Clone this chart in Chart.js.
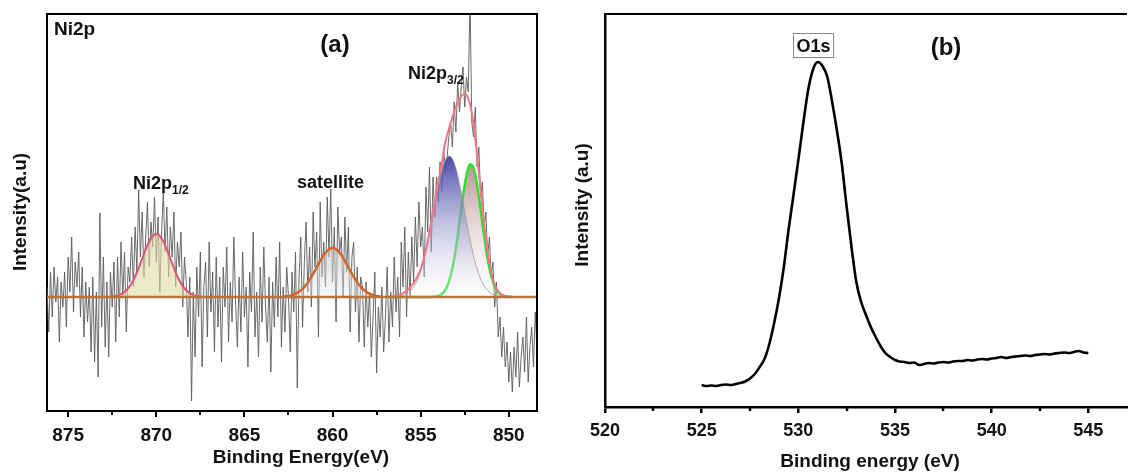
<!DOCTYPE html>
<html>
<head>
<meta charset="utf-8">
<script src="https://cdn.jsdelivr.net/npm/chart.js@4.4.1/dist/chart.umd.min.js"></script>
<style>
  html, body { margin: 0; padding: 0; background: #fff; }
  #wrap { position: relative; width: 1128px; height: 473px; overflow: hidden; background: #fff; }
  #ni { position: absolute; left: 0; top: 0; }
  #o1s { position: absolute; left: 560px; top: 0; }
</style>
</head>
<body>
<div id="wrap">
  <canvas id="ni" width="560" height="473"></canvas>
  <canvas id="o1s" width="568" height="473"></canvas>
</div>
<script>
// ---- (a) Ni2p spectrum, intensity relative to background (a.u.) ----
// raw counts, 876.2 eV down to 848.4 eV in 0.1 eV steps
const niStart = 876.2;
const niStep = 0.1;
const niCounts = [
  10, -35, 25, -20, 30, -5, 20, -45, 15, -10,
  25, -30, 40, 5, 60, -15, 35, 10, 45, -20,
  30, -40, 15, -25, 10, -55, 20, -65, 5, -80,
  84, -30, 40, -50, 15, -60, 25, -10, 35, -45,
  40, -20, 55, 0, 45, -35, 30, 15, 60, 10,
  70, 25, 107, 40, 85, 20, 60, 95, 30, 75,
  50, 100, 35, 80, 5, 65, 105, 45, 90, 20,
  70, 40, 85, 10, 55, 30, 65, -10, 40, 15,
  -40, 20, -104, 5, -60, 30, -20, 45, -70, 10,
  35, -40, 55, -15, 25, -55, 40, -30, 20, -65,
  30, -10, 50, -45, 15, -25, 60, -5, -50, 20,
  -35, 45, -20, 10, -70, 25, -15, 65, -40, 5,
  -60, 30, -25, 50, -10, -45, 20, -75, 15, -30,
  40, -20, 55, -50, 10, -35, 30, 0, -55, 25,
  -15, 45, -91, 20, 60, -30, 35, 75, 5, 50,
  -10, 85, 30, 65, -40, 95, 20, 55, 10, 100,
  40, 108, 15, 70, -25, 90, 45, 60, 0, 80,
  25, 70, -35, 40, 55, -15, 30, -45, 20, 10,
  -50, 15, -30, 5, -60, -20, 25, -76, -10, -40,
  10, -55, -20, 30, -45, 5, -30, 40, -15, 20,
  -40, 55, 10, 70, -20, 45, 0, 60, 15, 80,
  30, 95, 50, 70, 20, 110, 65, 130, 45, 120,
  80, 120, 95, 135, 105, 150, 125, 140, 160, 175,
  150, 195, 165, 215, 185, 210, 230, 190, 220, 205,
  300, 175, 160, 190, 130, 150, 100, 115, 70, 85,
  40, 60, 20, 35, -10, 15, -40, -20, -60, -30,
  -70, -45, -85, -55, -95, -50, -80, -35, -90, -60,
  -40, -75, -20, -85, -50, -30, -70, -15, -55
];

// Ni2p1/2 fit, 872.6 -> 867.4 eV, 0.2 eV steps
const ni12Start = 872.6;
const ni12Fit = [0.3, 0.7, 1.4, 2.8, 5.0, 8.6, 13.7, 20.5, 28.9, 38.2, 47.6, 55.6, 61.0, 63.0,
  61.0, 55.6, 47.6, 38.2, 28.9, 20.5, 13.7, 8.6, 5.0, 2.8, 1.4, 0.7, 0.3];

// satellite fit, 862.8 -> 857.2 eV, 0.2 eV steps
const satStart = 862.8;
const satFit = [0.4, 0.8, 1.4, 2.5, 4.2, 6.6, 10.1, 14.6, 20.2, 26.4, 33.0, 39.2, 44.4, 47.8, 49.0,
  47.8, 44.4, 39.2, 33.0, 26.4, 20.2, 14.6, 10.1, 6.6, 4.2, 2.5, 1.4, 0.8, 0.4];

// Ni2p3/2 components and envelope, 856.8 -> 849.8 eV, 0.2 eV steps
const mainStart = 856.8;
const blueFit = [0.1, 0.2, 0.4, 0.8, 1.7, 3.2, 5.9, 10.1, 16.6, 26.0, 38.4, 53.9, 72.0, 91.4, 110.0, 125.8,
  136.7, 141.0, 138.1, 128.5, 113.5, 95.2, 75.9, 57.4, 41.3, 28.2, 18.2, 11.2, 6.6, 3.6, 1.9, 1.0, 0.5, 0.2, 0.1, 0];
const greenFit = [0, 0, 0, 0, 0, 0, 0, 0, 0, 0, 0, 0, 0.1, 0.4, 1.2, 3.0,
  7.2, 15.2, 28.8, 48.8, 74.0, 100.4, 121.9, 132.5, 128.9, 112.2, 87.4, 60.9, 37.9, 21.2, 10.6, 4.7, 1.9, 0.7, 0.2, 0.1];
const envelopeFit = [0.3, 0.6, 1.2, 2.2, 3.8, 6.2, 9.5, 14, 20, 28, 40, 56, 75, 95, 115, 133,
  155, 168, 180, 190, 198, 202.5, 202, 193, 172, 142, 107, 73, 45, 25, 12.5, 5.7, 2.4, 0.9, 0.3, 0.1];

const niBackground = [0, 0];
const niBackgroundEnergy = [876.2, 848.4];
const niTicks = [875, 870, 865, 860, 855, 850];
const niMinorTicks = [872.5, 867.5, 862.5, 857.5, 852.5];

// ---- (b) O1s spectrum, 525 -> 545 eV, 0.25 eV steps ----
const oStart = 525;
const oStep = 0.25;
const oCounts = [
  22, 21, 21.5, 21, 22, 22.5, 22, 23, 24, 25.5, 28.5, 33,
  40, 48, 63, 84, 109, 140, 178, 212, 247, 283, 316, 337,
  345, 341, 330, 305, 276, 243, 200, 160, 125, 105, 92, 80,
  70, 61, 54, 50, 47, 45.5, 45, 44, 44.5, 42, 43, 44,
  43.5, 44.5, 45, 44.5, 45.5, 46, 46, 47, 46.5, 47.5, 48, 47.5,
  48.5, 49, 50, 49, 50, 50.5, 51, 51.5, 51, 52, 52.5, 53,
  52.5, 53.5, 54, 54.5, 54, 55, 56, 54.5, 54
];
const oTicks = [520, 525, 530, 535, 540, 545];
const oMinorTicks = [522.5, 527.5, 532.5, 537.5, 542.5];

const FONT = "'Liberation Sans', Arial, Helvetica, sans-serif";

function toPoints(values, start, step) {
  return values.map((v, i) => ({ x: +(start + i * step).toFixed(3), y: v }));
}

// vertical gradient from the peak of a curve down to the background line
function peakGradient(peak, top, bottom) {
  return (c) => {
    const chart = c.chart;
    if (!chart.chartArea) return bottom;
    const y = chart.scales.y;
    const g = chart.ctx.createLinearGradient(0, y.getPixelForValue(peak), 0, y.getPixelForValue(0));
    g.addColorStop(0, top);
    g.addColorStop(1, bottom);
    return g;
  };
}

function subLabel(ctx, main, sub, x, y, size) {
  ctx.textAlign = 'left';
  ctx.textBaseline = 'alphabetic';
  ctx.font = `bold ${size}px ${FONT}`;
  ctx.fillText(main, x, y);
  const w = ctx.measureText(main).width;
  ctx.font = `bold ${Math.round(size * 0.68)}px ${FONT}`;
  ctx.fillText(sub, x + w, y + 5);
}

function vTitle(ctx, text, x, y, size) {
  ctx.save();
  ctx.translate(x, y);
  ctx.rotate(-Math.PI / 2);
  ctx.font = `bold ${size}px ${FONT}`;
  ctx.textAlign = 'center';
  ctx.textBaseline = 'alphabetic';
  ctx.fillText(text, 0, 0);
  ctx.restore();
}

function decor(id, opts) {
  return {
    id,
    afterDraw(chart) {
      const { ctx, chartArea: a, scales: { x } } = chart;
      ctx.save();
      ctx.strokeStyle = '#000';
      ctx.lineWidth = opts.frameWidth;
      ctx.beginPath();
      ctx.moveTo(a.left, a.top);
      ctx.lineTo(a.right, a.top);
      if (opts.rightBorder) ctx.lineTo(a.right, a.bottom);
      ctx.stroke();
      ctx.lineWidth = opts.tickWidth;
      opts.minor.forEach(v => {
        const px = Math.round(x.getPixelForValue(v));
        ctx.beginPath();
        ctx.moveTo(px, a.bottom);
        ctx.lineTo(px, a.bottom + 4);
        ctx.stroke();
      });
      ctx.fillStyle = '#111';
      opts.texts(ctx);
      ctx.restore();
    }
  };
}

function line(data, color, width, order, extra) {
  return Object.assign({
    data, borderColor: color, borderWidth: width, order,
    pointRadius: 0, fill: false, tension: 0.4, borderJoinStyle: 'round'
  }, extra || {});
}

function axes(xMin, xMax, reverse, ticks, yMin, yMax, yWidth, xHeight, tickSize, axisWidth) {
  return {
    x: {
      type: 'linear', min: xMin, max: xMax, reverse,
      afterBuildTicks: s => { s.ticks = ticks.map(v => ({ value: v })); },
      afterFit: s => { s.height = xHeight; },
      ticks: { font: { family: FONT, size: tickSize, weight: 'bold' }, color: '#111', padding: 7,
        maxRotation: 0, autoSkip: false, callback: v => String(v) },
      grid: { display: true, drawOnChartArea: false, drawTicks: true, tickLength: 6, color: '#000', lineWidth: axisWidth },
      border: { display: true, color: '#000', width: axisWidth }
    },
    y: {
      type: 'linear', min: yMin, max: yMax,
      afterFit: s => { s.width = yWidth; },
      ticks: { display: false },
      grid: { display: false, drawTicks: false },
      border: { display: true, color: '#000', width: axisWidth }
    }
  };
}

const common = {
  responsive: false, animation: false, devicePixelRatio: 1, events: [],
  plugins: { legend: { display: false }, tooltip: { enabled: false } }
};

// ---- chart (a) ----
new Chart(document.getElementById('ni'), {
  type: 'line',
  data: {
    datasets: [
      line(niBackgroundEnergy.map((e, i) => ({ x: e, y: niBackground[i] })), '#b6733d', 2.5, 0, { tension: 0 }),
      line(toPoints(envelopeFit, mainStart, -0.2), '#f27684', 2, 1),
      line(toPoints(blueFit, mainStart, -0.2), '#9a9a9a', 0.8, 2, {
        fill: { value: 0 }, backgroundColor: peakGradient(141, 'rgba(66,66,165,0.97)', 'rgba(255,255,255,0.25)') }),
      line(toPoints(greenFit, mainStart, -0.2), '#2fe02f', 2.5, 3, {
        fill: { value: 0 }, backgroundColor: peakGradient(133, 'rgba(172,125,125,0.85)', 'rgba(255,255,255,0.2)') }),
      line(toPoints(ni12Fit, ni12Start, -0.2), '#e2507c', 2, 2, {
        fill: { value: 0 }, backgroundColor: 'rgba(224,218,165,0.6)' }),
      line(toPoints(satFit, satStart, -0.2), '#d4622a', 2.5, 2, {
        fill: { value: 0 }, backgroundColor: peakGradient(49, 'rgba(195,195,195,0.6)', 'rgba(235,235,235,0.4)') }),
      line(toPoints(niCounts, niStart, -niStep), '#5a5a5a', 0.9, 10, { tension: 0 })
    ]
  },
  options: Object.assign({}, common, {
    layout: { padding: { top: 14, right: 23, left: 0, bottom: 0 } },
    scales: axes(848.4, 876.2, true, niTicks, -114, 283, 47, 62, 19, 2)
  }),
  plugins: [decor('niDecor', {
    frameWidth: 2, rightBorder: true, tickWidth: 2, minor: niMinorTicks,
    texts(ctx) {
      ctx.textAlign = 'left';
      ctx.textBaseline = 'alphabetic';
      ctx.font = `bold 19px ${FONT}`;
      ctx.fillText('Ni2p', 54, 35);
      ctx.font = `bold 24px ${FONT}`;
      ctx.textAlign = 'center';
      ctx.fillText('(a)', 335, 52);
      subLabel(ctx, 'Ni2p', '3/2', 408, 79, 18);
      subLabel(ctx, 'Ni2p', '1/2', 133, 189, 18);
      ctx.textAlign = 'left';
      ctx.font = `bold 18px ${FONT}`;
      ctx.fillText('satellite', 297, 188);
      ctx.textAlign = 'center';
      ctx.font = `bold 19px ${FONT}`;
      ctx.fillText('Binding Energy(eV)', 301, 463);
      vTitle(ctx, 'Intensity(a.u)', 26, 212, 19);
    }
  })]
});

// ---- chart (b) ----
new Chart(document.getElementById('o1s'), {
  type: 'line',
  data: {
    datasets: [
      line(toPoints(oCounts, oStart, oStep), '#000', 2.6, 0, { cubicInterpolationMode: 'monotone' })
    ]
  },
  options: Object.assign({}, common, {
    layout: { padding: { top: 14, right: 1, left: 0, bottom: 0 } },
    scales: axes(520, 547, false, oTicks, 0, 393, 45, 66, 18, 2.5)
  }),
  plugins: [decor('oDecor', {
    frameWidth: 2, rightBorder: false, tickWidth: 2.5, minor: oMinorTicks,
    texts(ctx) {
      ctx.strokeStyle = '#888';
      ctx.lineWidth = 1;
      ctx.strokeRect(233.5, 33.5, 40, 24);
      ctx.textAlign = 'center';
      ctx.textBaseline = 'alphabetic';
      ctx.font = `bold 18px ${FONT}`;
      ctx.fillText('O1s', 253.5, 52);
      ctx.font = `bold 24px ${FONT}`;
      ctx.fillText('(b)', 386, 55);
      ctx.font = `bold 19px ${FONT}`;
      ctx.fillText('Binding energy (eV)', 310, 467);
      vTitle(ctx, 'Intensity (a.u)', 28, 205, 19);
    }
  })]
});
</script>
</body>
</html>
